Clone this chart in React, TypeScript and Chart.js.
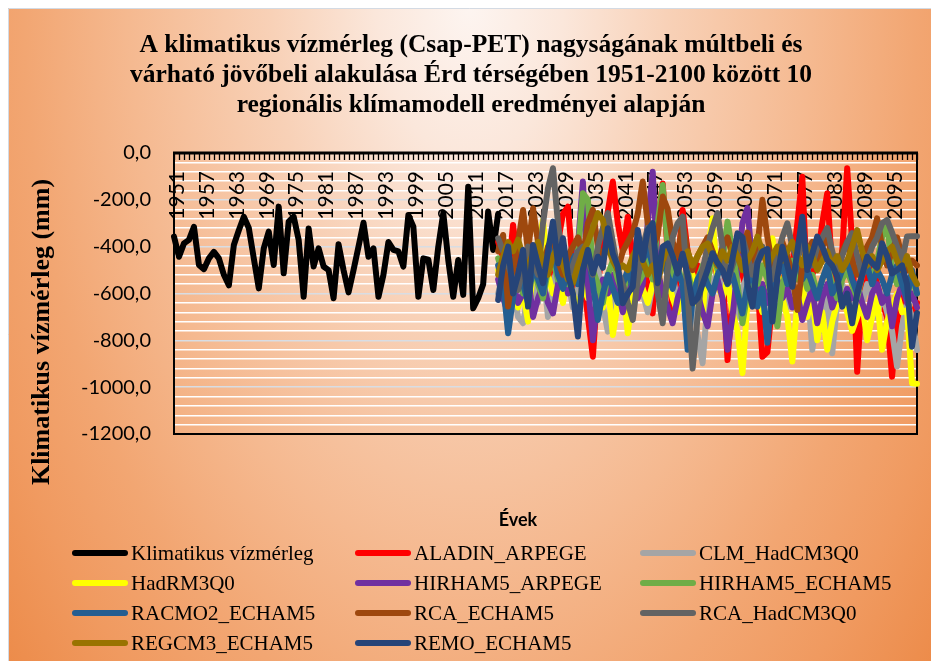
import React, { useEffect, useRef } from 'react';
import { Chart, registerables } from 'chart.js';

Chart.register(...registerables);

const TITLE_LINES = [
  'A klimatikus vízmérleg (Csap-PET) nagyságának múltbeli és',
  'várható jövőbeli alakulása Érd térségében 1951-2100 között 10',
  'regionális klímamodell eredményei alapján',
];
const Y_TITLE = 'Klimatikus vízmérleg (mm)';
const X_TITLE = 'Évek';

const FIRST_YEAR = 1951;
const LAST_YEAR = 2100;
const YEARS = Array.from({ length: LAST_YEAR - FIRST_YEAR + 1 }, (_, i) => String(FIRST_YEAR + i));
const X_TICK_LABELS = [
  '1951', '1957', '1963', '1969', '1975', '1981', '1987', '1993', '1999', '2005',
  '2011', '2017', '2023', '2029', '2035', '2041', '2047', '2053', '2059', '2065',
  '2071', '2077', '2083', '2089', '2095',
];
const MODEL_START_YEAR = 2016;

// observed 1951-2016
const OBSERVED = [
  -357, -443, -386, -371, -315, -478, -496, -450, -422, -450,
  -520, -565, -393, -330, -272, -320, -450, -578, -407, -336,
  -478, -229, -514, -293, -272, -371, -614, -322, -485, -407,
  -485, -500, -620, -390, -500, -595, -500, -400, -298, -443,
  -407, -614, -520, -380, -414, -420, -485, -265, -315, -614,
  -450, -455, -585, -400, -257, -457, -614, -457, -606, -144,
  -663, -620, -560, -250, -414, -260,
];

// models 2016-2100
const ALADIN_ARPEGE = [
  -380, -450, -520, -307, -480, -560, -430, -600, -500, -420,
  -550, -470, -380, -260, -229, -480, -600, -520, -700, -870,
  -560, -400, -250, -122, -300, -420, -272, -450, -520, -480,
  -560, -685, -300, -130, -420, -685, -500, -243, -420, -560,
  -480, -600, -380, -430, -550, -500, -884, -620, -450, -520,
  -600, -480, -560, -870, -850, -640, -500, -580, -650, -480,
  -300, -101, -600, -520, -450, -300, -172, -500, -560, -420,
  -65, -380, -934, -600, -520, -480, -560, -640, -700, -955,
  -720, -600, -650, -700, -640,
];
const CLM_HADCM3Q0 = [
  -600, -520, -650, -580, -700, -727, -600, -550, -640, -500,
  -700, -560, -480, -620, -540, -660, -580, -500, -620, -560,
  -480, -650, -763, -600, -520, -580, -700, -620, -540, -600,
  -680, -560, -500, -620, -580, -520, -640, -560, -700, -620,
  -780, -898, -640, -560, -500, -600, -540, -620, -700, -580,
  -520, -640, -600, -560, -680, -620, -540, -600, -660, -580,
  -700, -620, -560, -840, -700, -760, -600, -855, -640, -560,
  -620, -700, -580, -640, -560, -620, -700, -600, -680, -760,
  -912, -740, -640, -700, -841,
];
const HADRM3Q0 = [
  -500, -580, -640, -560, -660, -600, -720, -500, -400, -286,
  -520, -600, -560, -640, -520, -600, -680, -560, -620, -500,
  -580, -660, -560, -777, -640, -560, -770, -600, -520, -580,
  -640, -560, -500, -600, -540, -620, -680, -560, -600, -520,
  -640, -700, -420, -279, -560, -620, -540, -680, -760, -940,
  -640, -560, -600, -680, -560, -364, -500, -620, -700, -890,
  -640, -560, -700, -620, -800, -680, -840, -720, -640, -600,
  -680, -760, -700, -640, -800, -700, -620, -840, -720, -660,
  -600, -680, -670, -983, -985,
];
const HIRHAM5_ARPEGE = [
  -540, -620, -685, -560, -640, -600, -520, -700, -620, -560,
  -640, -685, -560, -480, -600, -520, -400, -122, -560, -800,
  -620, -540, -600, -520, -580, -680, -600, -540, -620, -560,
  -300, -80, -500, -600, -660, -727, -620, -560, -640, -580,
  -600, -680, -740, -600, -540, -620, -840, -700, -500, -300,
  -235, -480, -620, -560, -640, -600, -540, -620, -580, -660,
  -600, -713, -640, -580, -727, -620, -560, -660, -600, -640,
  -580, -620, -560, -640, -700, -600, -560, -640, -600, -740,
  -620, -560, -640, -600, -660,
];
const HIRHAM5_ECHAM5 = [
  -450, -520, -480, -560, -500, -600, -540, -480, -560, -620,
  -500, -460, -540, -480, -560, -500, -420, -172, -200, -500,
  -560, -640, -520, -460, -540, -600, -520, -480, -560, -520,
  -460, -540, -300, -137, -400, -520, -480, -560, -500, -600,
  -540, -480, -560, -420, -500, -460, -293, -420, -560, -727,
  -600, -520, -560, -480, -540, -620, -740, -560, -500, -460,
  -540, -500, -580, -520, -600, -540, -480, -560, -620, -540,
  -500, -560, -620, -520, -480, -540, -460, -360, -300, -500,
  -560, -480, -600, -540, -600,
];
const RACMO2_ECHAM5 = [
  -480, -560, -770, -620, -500, -560, -640, -480, -540, -600,
  -460, -400, -520, -580, -500, -440, -560, -480, -420, -560,
  -713, -600, -520, -580, -640, -560, -500, -580, -520, -460,
  -400, -480, -540, -460, -520, -580, -500, -560, -840, -620,
  -540, -500, -560, -600, -520, -480, -560, -520, -600, -685,
  -560, -500, -656, -580, -810, -600, -520, -480, -560, -520,
  -460, -540, -500, -560, -620, -540, -480, -600, -560, -500,
  -460, -540, -600, -520, -480, -560, -500, -540, -600, -520,
  -480, -560, -620, -500, -600,
];
const RCA_ECHAM5 = [
  -420, -350, -656, -500, -380, -243, -420, -236, -380, -480,
  -400, -360, -460, -520, -440, -400, -360, -440, -300, -243,
  -400, -460, -380, -440, -500, -420, -380, -340, -260, -122,
  -300, -400, -350, -186, -240, -380, -440, -300, -420, -500,
  -440, -400, -360, -420, -480, -400, -360, -440, -380, -420,
  -340, -460, -400, -200, -360, -480, -420, -380, -440, -520,
  -670, -480, -420, -380, -460, -400, -360, -440, -500, -420,
  -380, -460, -520, -440, -400, -360, -279, -400, -480, -420,
  -360, -440, -500, -460, -480,
];
const RCA_HADCM3Q0 = [
  -364, -420, -480, -540, -585, -480, -400, -460, -520, -300,
  -150, -65, -300, -460, -540, -480, -420, -400, -460, -520,
  -400, -320, -257, -380, -500, -560, -640, -713, -540, -400,
  -320, -440, -600, -727, -500, -360, -300, -272, -600, -920,
  -700, -500, -400, -320, -257, -400, -556, -480, -420, -360,
  -440, -520, -460, -400, -480, -540, -440, -360, -300, -400,
  -460, -380, -420, -480, -400, -360, -320, -420, -500, -440,
  -380, -342, -440, -520, -460, -400, -360, -300, -286, -340,
  -400, -457, -357, -355, -355,
];
const REGCM3_ECHAM5 = [
  -520, -440, -380, -420, -370, -440, -500, -420, -380, -460,
  -520, -440, -400, -480, -540, -556, -480, -420, -380, -320,
  -257, -286, -400, -460, -500, -480, -500, -440, -400, -460,
  -520, -480, -556, -460, -400, -440, -500, -460, -420, -480,
  -440, -400, -386, -440, -480, -420, -460, -400, -440, -500,
  -460, -420, -357, -420, -480, -440, -400, -460, -420, -380,
  -440, -480, -400, -440, -500, -460, -420, -480, -440, -500,
  -460, -400, -329, -420, -480, -440, -500, -460, -420, -400,
  -460, -500, -440, -520, -560,
];
const REMO_ECHAM5 = [
  -628, -480, -400, -600, -520, -414, -656, -393, -480, -556,
  -420, -293, -471, -364, -520, -600, -784, -500, -414, -514,
  -443, -490, -321, -430, -485, -642, -600, -571, -329, -457,
  -330, -300, -556, -400, -386, -440, -514, -430, -520, -642,
  -620, -560, -500, -428, -470, -500, -556, -450, -343, -360,
  -560, -656, -470, -420, -410, -720, -530, -400, -480, -571,
  -420, -272, -500, -430, -357, -400, -457, -480, -528, -656,
  -600, -727, -600, -520, -443, -470, -490, -386, -440, -514,
  -500, -480, -560, -827, -683,
];

const SERIES: { label: string; color: string; values: number[]; start: number }[] = [
  { label: 'Klimatikus vízmérleg', color: '#000000', values: OBSERVED, start: FIRST_YEAR },
  { label: 'ALADIN_ARPEGE', color: '#ff0000', values: ALADIN_ARPEGE, start: MODEL_START_YEAR },
  { label: 'CLM_HadCM3Q0', color: '#a5a5a5', values: CLM_HADCM3Q0, start: MODEL_START_YEAR },
  { label: 'HadRM3Q0', color: '#ffff00', values: HADRM3Q0, start: MODEL_START_YEAR },
  { label: 'HIRHAM5_ARPEGE', color: '#7030a0', values: HIRHAM5_ARPEGE, start: MODEL_START_YEAR },
  { label: 'HIRHAM5_ECHAM5', color: '#70ad47', values: HIRHAM5_ECHAM5, start: MODEL_START_YEAR },
  { label: 'RACMO2_ECHAM5', color: '#255e91', values: RACMO2_ECHAM5, start: MODEL_START_YEAR },
  { label: 'RCA_ECHAM5', color: '#9e480e', values: RCA_ECHAM5, start: MODEL_START_YEAR },
  { label: 'RCA_HadCM3Q0', color: '#636363', values: RCA_HADCM3Q0, start: MODEL_START_YEAR },
  { label: 'REGCM3_ECHAM5', color: '#997300', values: REGCM3_ECHAM5, start: MODEL_START_YEAR },
  { label: 'REMO_ECHAM5', color: '#264478', values: REMO_ECHAM5, start: MODEL_START_YEAR },
];

const W = 923;
const H = 653;

const fmt = (v: number) => (Math.abs(v) < 1e-9 ? 0 : v).toFixed(1).replace('.', ',');

const decor = {
  id: 'decor',
  beforeDraw(chart: any) {
    const ctx = chart.ctx as CanvasRenderingContext2D;
    ctx.save();
    // background gradient (elliptical)
    ctx.save();
    ctx.translate(462, -5);
    ctx.scale(1, 1.65);
    const g = ctx.createRadialGradient(0, 0, 0, 0, 0, 620);
    g.addColorStop(0, '#fdf5f1');
    g.addColorStop(0.15, '#fbe7db');
    g.addColorStop(0.32, '#f8d1b7');
    g.addColorStop(0.55, '#f5b990');
    g.addColorStop(0.72, '#f2a672');
    g.addColorStop(0.85, '#f09a60');
    g.addColorStop(1, '#ec8a48');
    ctx.fillStyle = g;
    ctx.fillRect(-600, -100, 1300, 600);
    ctx.restore();
    ctx.strokeStyle = '#d3dae3';
    ctx.lineWidth = 1;
    ctx.beginPath();
    ctx.moveTo(0.5, H);
    ctx.lineTo(0.5, 0.5);
    ctx.lineTo(W, 0.5);
    ctx.stroke();

    // title
    ctx.fillStyle = '#000';
    ctx.font = 'bold 25.5px "Liberation Serif"';
    ctx.textAlign = 'center';
    ctx.textBaseline = 'middle';
    TITLE_LINES.forEach((t, i) => ctx.fillText(t, 463, 37 + i * 30));

    // y title
    ctx.save();
    ctx.translate(34, 324);
    ctx.rotate(-Math.PI / 2);
    ctx.font = 'bold 26px "Liberation Serif"';
    ctx.fillText(Y_TITLE, 0, 0);
    ctx.restore();

    // x title
    ctx.font = 'bold 18px Lato';
    ctx.fillText(X_TITLE, 510, 512);

    // legend
    const colX = [64, 347, 632];
    const rowY = [545, 575, 605, 635];
    ctx.font = '21px "Liberation Serif"';
    ctx.textAlign = 'left';
    chart.data.datasets.forEach((ds: any, i: number) => {
      const cx = colX[i % 3];
      const cy = rowY[Math.floor(i / 3)];
      ctx.strokeStyle = ds.borderColor;
      ctx.lineWidth = 6;
      ctx.lineCap = 'round';
      ctx.beginPath();
      ctx.moveTo(cx + 3, cy);
      ctx.lineTo(cx + 53, cy);
      ctx.stroke();
      ctx.fillStyle = '#000';
      ctx.fillText(ds.label, cx + 59, cy + 1);
    });
    ctx.restore();
  },
  beforeDatasetsDraw(chart: any) {
    const ctx = chart.ctx as CanvasRenderingContext2D;
    const ca = chart.chartArea;
    const xs = chart.scales.x;
    ctx.save();
    ctx.strokeStyle = '#000';
    ctx.lineWidth = 2;
    ctx.strokeRect(ca.left, ca.top, ca.right - ca.left, ca.bottom - ca.top);
    ctx.lineWidth = 3;
    ctx.beginPath();
    ctx.moveTo(ca.left - 1, ca.top);
    ctx.lineTo(ca.right + 1, ca.top);
    ctx.stroke();
    ctx.lineWidth = 1.3;
    ctx.beginPath();
    for (let i = 0; i < YEARS.length; i++) {
      const x = Math.round(xs.getPixelForValue(i)) + 0.5;
      ctx.moveTo(x, ca.top);
      ctx.lineTo(x, ca.top + 7);
    }
    ctx.stroke();
    ctx.fillStyle = '#000';
    ctx.font = '21px Lato';
    ctx.textAlign = 'right';
    ctx.textBaseline = 'middle';
    X_TICK_LABELS.forEach((lab) => {
      const idx = YEARS.indexOf(lab);
      const x = xs.getPixelForValue(idx) + 3;
      ctx.save();
      ctx.translate(x, ca.top + 18);
      ctx.rotate(-Math.PI / 2);
      ctx.fillText(lab, 0, 0);
      ctx.restore();
    });
    ctx.restore();
  },
};

export default function App() {
  const ref = useRef<HTMLCanvasElement | null>(null);
  useEffect(() => {
    if (!ref.current) return;
    const datasets = SERIES.map((s, i) => ({
      label: s.label,
      data: [...Array(s.start - FIRST_YEAR).fill(null), ...s.values],
      borderColor: s.color,
      backgroundColor: s.color,
      borderWidth: 6,
      pointRadius: 0,
      pointHoverRadius: 0,
      tension: 0,
      fill: false,
      borderJoinStyle: 'round' as const,
      borderCapStyle: 'round' as const,
      order: SERIES.length - i,
    }));
    const chart = new Chart(ref.current, {
      type: 'line',
      data: { labels: YEARS, datasets },
      options: {
        responsive: false,
        animation: false,
        devicePixelRatio: 1,
        layout: { padding: { left: 0, top: 145, right: 14, bottom: 227 } },
        plugins: { legend: { display: false }, title: { display: false }, tooltip: { enabled: false } },
        scales: {
          x: { type: 'category', display: false, offset: false },
          y: {
            min: -1200,
            max: 0,
            afterFit: (s: any) => {
              s.width = 166;
            },
            border: { display: false },
            grid: {
              drawTicks: false,
              lineWidth: 1.4,
              color: (c: any) => (c.tick && Math.abs(c.tick.value % 200) < 1e-6 ? '#d8dde4' : '#ffffff'),
            },
            ticks: {
              stepSize: 40,
              autoSkip: false,
              padding: 23,
              color: '#000',
              font: { family: 'Lato', size: 20 },
              callback: (v: any) => (Math.abs(Number(v) % 200) < 1e-6 ? fmt(Number(v)) : ''),
            },
          },
        },
      },
      plugins: [decor],
    });
    return () => chart.destroy();
  }, []);
  return (
    <div style={{ position: 'fixed', left: 8, top: 8, width: W, height: H, overflow: 'hidden' }}>
      <canvas ref={ref} width={W} height={H} style={{ display: 'block', width: W, height: H }} />
    </div>
  );
}
